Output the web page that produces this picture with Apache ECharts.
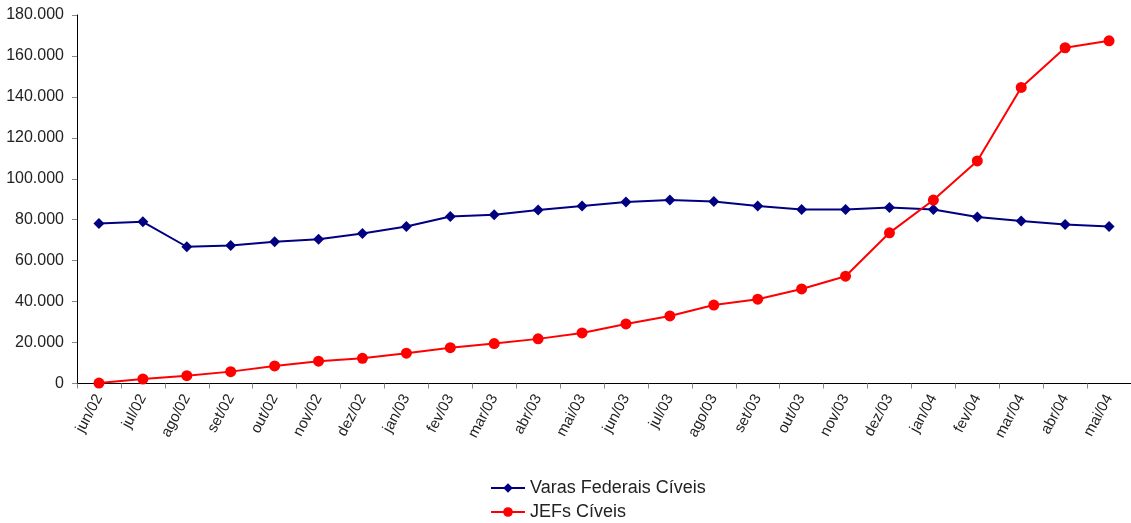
<!DOCTYPE html>
<html>
<head>
<meta charset="utf-8">
<script src="https://cdn.jsdelivr.net/npm/echarts@6/dist/echarts.min.js"></script>
<style>
  html, body { margin: 0; padding: 0; background: #fff; }
  #mainChart { width: 1131px; height: 523px; }
</style>
</head>
<body>
<div id="mainChart"></div>
<script>
// meses (jun/02 - mai/04)
var categories = ['jun/02', 'jul/02', 'ago/02', 'set/02', 'out/02', 'nov/02', 'dez/02',
    'jan/03', 'fev/03', 'mar/03', 'abr/03', 'mai/03', 'jun/03', 'jul/03', 'ago/03',
    'set/03', 'out/03', 'nov/03', 'dez/03', 'jan/04', 'fev/04', 'mar/04', 'abr/04', 'mai/04'];

var varasFederais = [78200, 79000, 66800, 67400, 69200, 70500, 73300,
    76700, 81600, 82400, 84700, 86700, 88600, 89600, 88900,
    86700, 85000, 85000, 86000, 85000, 81300, 79400, 77700, 76700];

var jefsCiveis = [200, 2200, 3800, 5800, 8600, 10900, 12300,
    14800, 17500, 19500, 21800, 24700, 29100, 33000, 38300,
    41200, 46200, 52400, 73600, 89600, 108700, 144600, 164000, 167400];

var yMin = 0, yMax = 180000, yStep = 20000;

function fmtMil(v) {
    return String(v).replace(/\B(?=(\d{3})+(?!\d))/g, '.');
}

var myChart = echarts.init(document.getElementById('mainChart'));

// legenda: uma por linha, empilhadas
var legendBase = {
    orient: 'vertical',
    left: 490,
    itemGap: 0,
    itemWidth: 34,
    itemHeight: 12,
    padding: 0,
    textStyle: { fontSize: 18, color: '#222' }
};

myChart.setOption({
    animation: false,
    textStyle: { fontFamily: 'Liberation Sans, Arial, sans-serif' },
    grid: {
        left: 77,
        right: 0,
        top: 15,
        bottom: 139.5,
        containLabel: false
    },
    legend: [
        Object.assign({}, legendBase, { top: 479, data: ['Varas Federais Cíveis'] }),
        Object.assign({}, legendBase, { top: 503, data: ['JEFs Cíveis'] })
    ],
    xAxis: {
        type: 'category',
        data: categories,
        boundaryGap: true,
        axisLine: { lineStyle: { color: '#000', width: 1 } },
        axisTick: { show: true, length: 5, lineStyle: { color: '#888' } },
        axisLabel: {
            rotate: 62,
            fontSize: 15,
            color: '#222',
            margin: 12,
            interval: 0
        },
        splitLine: { show: false }
    },
    yAxis: {
        type: 'value',
        min: yMin,
        max: yMax,
        interval: yStep,
        axisLine: { show: true, lineStyle: { color: '#000', width: 1 } },
        axisTick: { show: true, length: 5, lineStyle: { color: '#888' } },
        axisLabel: {
            fontSize: 16,
            color: '#222',
            margin: 13,
            formatter: function (v) { return fmtMil(v); }
        },
        splitLine: { show: false }
    },
    series: [{
        name: 'Varas Federais Cíveis',
        type: 'line',
        data: varasFederais,
        symbol: 'diamond',
        symbolSize: 11,
        lineStyle: { color: '#000080', width: 2 },
        itemStyle: { color: '#000080' }
    }, {
        name: 'JEFs Cíveis',
        type: 'line',
        data: jefsCiveis,
        symbol: 'circle',
        symbolSize: 11,
        lineStyle: { color: '#ff0000', width: 2 },
        itemStyle: { color: '#ff0000' }
    }]
});
</script>
</body>
</html>
